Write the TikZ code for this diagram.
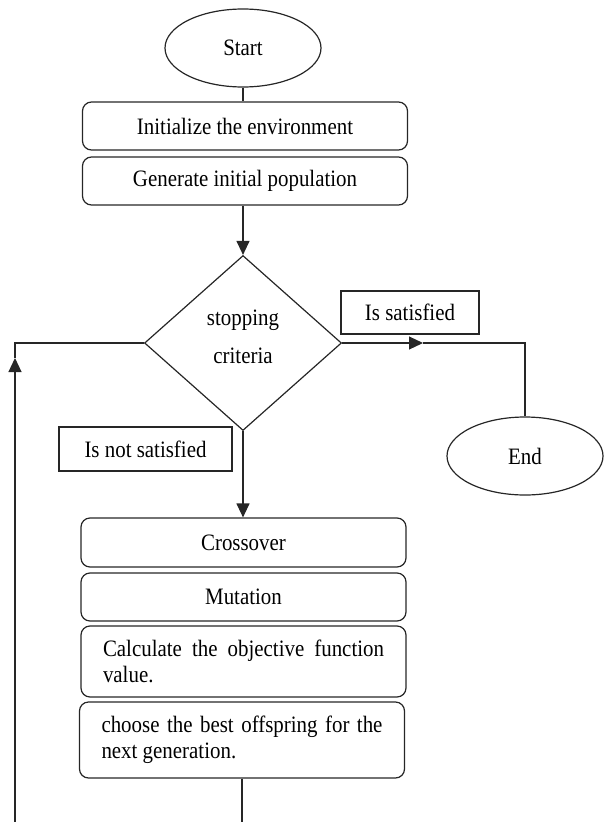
\documentclass[tikz,border=0pt]{standalone}
\usepackage{fontspec}
\setmainfont[FakeStretch=0.89]{Liberation Serif}
\usetikzlibrary{shapes.geometric,arrows.meta}
\begin{document}
\begin{tikzpicture}[x=1pt,y=-1pt,
  every node/.style={font=\fontsize{23.5}{26.5}\selectfont, text=black},
  ln/.style={line width=1.2pt, draw=black!85},
  rbox/.style={ln, rectangle, rounded corners=9pt, minimum width=325pt, inner sep=0pt},
  lbl/.style={ln, rectangle, inner sep=0pt},
  term/.style={ln, ellipse, inner sep=0pt},
  arr/.style={ln, -{Triangle[length=14pt,width=13pt]}}
]
\useasboundingbox (0,0) rectangle (604,822);
% terminals
\node[term, minimum width=156pt, minimum height=78pt] (start) at (243,48) {Start};
\node[term, minimum width=156pt, minimum height=78pt] (end) at (525,456) {End};
% top boxes
\node[rbox, minimum height=48pt] (init) at (245,126) {Initialize the environment};
\node[rbox, minimum height=48pt] (gen) at (245,181) {Generate initial population};
% decision
\node[ln, diamond, minimum width=197pt, minimum height=175pt, inner sep=0pt,
      font=\fontsize{23.5}{38}\selectfont] (dec) at (243,343)
  {\raisebox{6pt}[\height][\depth]{\begin{tabular}{@{}c@{}}stopping\\criteria\end{tabular}}};
% labels
\node[lbl, minimum width=138pt, minimum height=43pt] (sat) at (410,312.5) {Is satisfied};
\node[lbl, minimum width=173pt, minimum height=44pt] (nsat) at (145.5,449) {Is not satisfied};
% lower boxes
\node[rbox, minimum height=49pt] (cross) at (243.5,542.5) {Crossover};
\node[rbox, minimum height=48pt] (mut) at (243.5,597) {Mutation};
\node[rbox, minimum height=71pt, align=justify, text width=281pt] (calc) at (243.5,661.5)
  {Calculate the objective function value.};
\node[rbox, minimum height=76pt, align=justify, text width=281pt] (choose) at (242,740)
  {choose the best offspring for the next generation.};
% connectors
\coordinate (rtip) at (423,343);
\coordinate (rcorner) at (525,343);
\coordinate (bot) at (242,822);
\coordinate (lbot) at (15,822);
\coordinate (ltip) at (15,358);
\coordinate (lcorner) at (15,343);
\draw[ln] (start.south) -- (start.south |- init.north);
\draw[arr] (gen.south -| dec.north) -- (dec.north);
\draw[arr] (dec.east) -- (rtip);
\draw[ln] (rtip) -- (rcorner) -- (end.north);
\draw[arr] (dec.south) -- (dec.south |- cross.north);
\draw[ln] (choose.south) -- (bot);
\draw[arr] (lbot) -- (ltip);
\draw[ln] (ltip) -- (lcorner) -- (dec.west);
\end{tikzpicture}
\end{document}
